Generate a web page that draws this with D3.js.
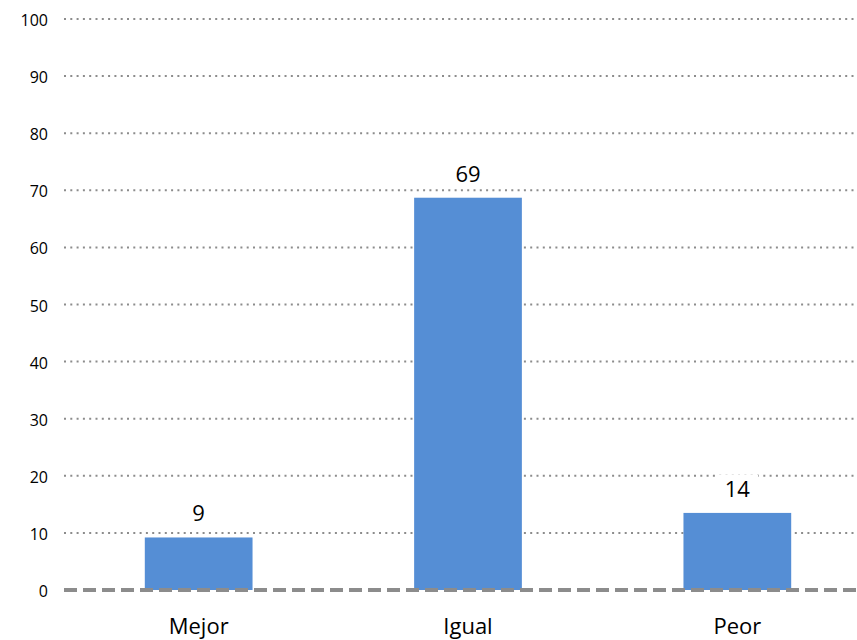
<!DOCTYPE html>
<html>
<head>
<meta charset="utf-8">
<script src="https://d3js.org/d3.v7.min.js"></script>
<style>
  body { margin: 0; background: #fff; }
  text { font-family: "Open Sans", "Liberation Sans", sans-serif; fill: #000; }
</style>
</head>
<body>
<svg></svg>
<script>
const categories = ["Mejor", "Igual", "Peor"];
const values = [9.2, 68.7, 13.5];
const labels = ["9", "69", "14"];
const yTicks = [0, 10, 20, 30, 40, 50, 60, 70, 80, 90, 100];

const width = 857, height = 640;
const svg = d3.select("svg").attr("width", width).attr("height", height);

const x = d3.scaleBand().domain(categories).range([64, 872]).paddingInner(0.6).paddingOuter(0.3);
const y = d3.scaleLinear().domain([0, 100]).range([590, 19]);

// gridlines
svg.append("g")
  .selectAll("line")
  .data(yTicks.filter(d => d > 0))
  .join("line")
  .attr("x1", 64).attr("x2", width)
  .attr("y1", d => y(d)).attr("y2", d => y(d))
  .attr("stroke", "#8c8c8c")
  .attr("stroke-width", 2)
  .attr("stroke-dasharray", "2,4.3");

// y tick labels
svg.append("g")
  .selectAll("text")
  .data(yTicks)
  .join("text")
  .attr("x", 48).attr("y", d => y(d) + 7)
  .attr("text-anchor", "end")
  .style("font-size", "16px")
  .text(d => d);

// bars
svg.append("g")
  .selectAll("rect")
  .data(values)
  .join("rect")
  .attr("x", (d, i) => x(categories[i]))
  .attr("width", x.bandwidth())
  .attr("y", d => y(d))
  .attr("height", d => y(0) - y(d))
  .attr("fill", "#558ed5");

// value labels with white background
const lab = svg.append("g")
  .selectAll("g")
  .data(values)
  .join("g")
  .attr("transform", (d, i) => `translate(${x(categories[i]) + x.bandwidth() / 2},${y(d) - 16})`);
lab.append("rect")
  .attr("x", (d, i) => -labels[i].length * 7 - 7)
  .attr("width", (d, i) => labels[i].length * 14 + 14)
  .attr("y", -22).attr("height", 28)
  .attr("fill", "#fff");
lab.append("text")
  .attr("text-anchor", "middle")
  .style("font-size", "22px")
  .text((d, i) => labels[i]);

// baseline
svg.append("line")
  .attr("x1", 64).attr("x2", width)
  .attr("y1", y(0)).attr("y2", y(0))
  .attr("stroke", "#8c8c8c")
  .attr("stroke-width", 4)
  .attr("stroke-dasharray", "13,6");

// category labels
svg.append("g")
  .selectAll("text")
  .data(categories)
  .join("text")
  .attr("x", d => x(d) + x.bandwidth() / 2)
  .attr("y", 634)
  .attr("text-anchor", "middle")
  .style("font-size", "22px")
  .text(d => d);
</script>
</body>
</html>
